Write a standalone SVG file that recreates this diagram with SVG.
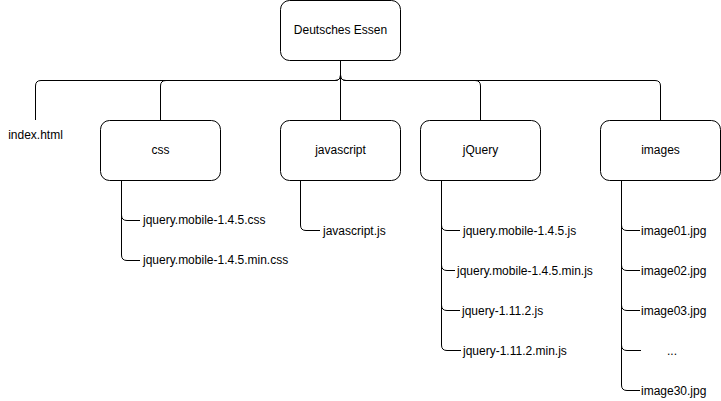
<svg xmlns="http://www.w3.org/2000/svg" width="721" height="401" viewBox="0 0 721 401">
<style>
.box{fill:#fff;stroke:#000;stroke-width:1}
.edge{fill:none;stroke:#000;stroke-width:1}
text{font-family:"Liberation Sans",Arial,sans-serif;font-size:12px;fill:#000}
.c{text-anchor:middle}
</style>
<rect width="721" height="401" fill="#fff"/>
<g id="connectors">
<path class="edge" d="M340.5 60 V75 Q340.5 80.5 335 80.5 H41 Q35.5 80.5 35.5 86 V120"/>
<path class="edge" d="M340.5 60 V75 Q340.5 80.5 335 80.5 H166 Q160.5 80.5 160.5 86 V120"/>
<path class="edge" d="M340.5 60 V120"/>
<path class="edge" d="M340.5 60 V75 Q340.5 80.5 346 80.5 H475 Q480.5 80.5 480.5 86 V120"/>
<path class="edge" d="M340.5 60 V75 Q340.5 80.5 346 80.5 H655 Q660.5 80.5 660.5 86 V120"/>
<path class="edge" d="M121.5 180 V215 Q121.5 220.5 127 220.5 H140"/>
<path class="edge" d="M121.5 180 V255 Q121.5 260.5 127 260.5 H140"/>
<path class="edge" d="M300.5 180 V225 Q300.5 230.5 306 230.5 H320"/>
<path class="edge" d="M441.5 180 V225 Q441.5 230.5 447 230.5 H460"/>
<path class="edge" d="M441.5 180 V265 Q441.5 270.5 447 270.5 H455"/>
<path class="edge" d="M441.5 180 V305 Q441.5 310.5 447 310.5 H460"/>
<path class="edge" d="M441.5 180 V345 Q441.5 350.5 447 350.5 H461"/>
<path class="edge" d="M621.5 180 V225 Q621.5 230.5 627 230.5 H640"/>
<path class="edge" d="M621.5 180 V265 Q621.5 270.5 627 270.5 H640"/>
<path class="edge" d="M621.5 180 V305 Q621.5 310.5 627 310.5 H640"/>
<path class="edge" d="M621.5 180 V345 Q621.5 350.5 627 350.5 H641"/>
<path class="edge" d="M621.5 180 V385 Q621.5 390.5 627 390.5 H640"/>
</g>
<g id="root"><rect class="box" x="280.5" y="0.5" width="120" height="60" rx="9"/><text class="c" x="340.5" y="34">Deutsches Essen</text></g>
<g id="index"><text class="c" x="35.5" y="139">index.html</text></g>
<g id="css"><rect class="box" x="100.5" y="120.5" width="120" height="60" rx="9"/><text class="c" x="160.5" y="154">css</text></g>
<g id="javascript"><rect class="box" x="280.5" y="120.5" width="120" height="60" rx="9"/><text class="c" x="340.5" y="154">javascript</text></g>
<g id="jquery"><rect class="box" x="420.5" y="120.5" width="120" height="60" rx="9"/><text class="c" x="480.5" y="154">jQuery</text></g>
<g id="images"><rect class="box" x="600.5" y="120.5" width="120" height="60" rx="9"/><text class="c" x="660.5" y="154">images</text></g>
<g id="css1"><text x="143" y="224">jquery.mobile-1.4.5.css</text></g>
<g id="css2"><text x="143" y="264">jquery.mobile-1.4.5.min.css</text></g>
<g id="js1"><text x="323" y="235">javascript.js</text></g>
<g id="jq1"><text x="463" y="235">jquery.mobile-1.4.5.js</text></g>
<g id="jq2"><text x="457" y="275">jquery.mobile-1.4.5.min.js</text></g>
<g id="jq3"><text x="462" y="315">jquery-1.11.2.js</text></g>
<g id="jq4"><text x="463" y="355">jquery-1.11.2.min.js</text></g>
<g id="img1"><text x="641" y="235">image01.jpg</text></g>
<g id="img2"><text x="641" y="275">image02.jpg</text></g>
<g id="img3"><text x="641" y="315">image03.jpg</text></g>
<g id="imgdots"><text class="c" x="672" y="355">...</text></g>
<g id="img30"><text x="641" y="395">image30.jpg</text></g>
</svg>
